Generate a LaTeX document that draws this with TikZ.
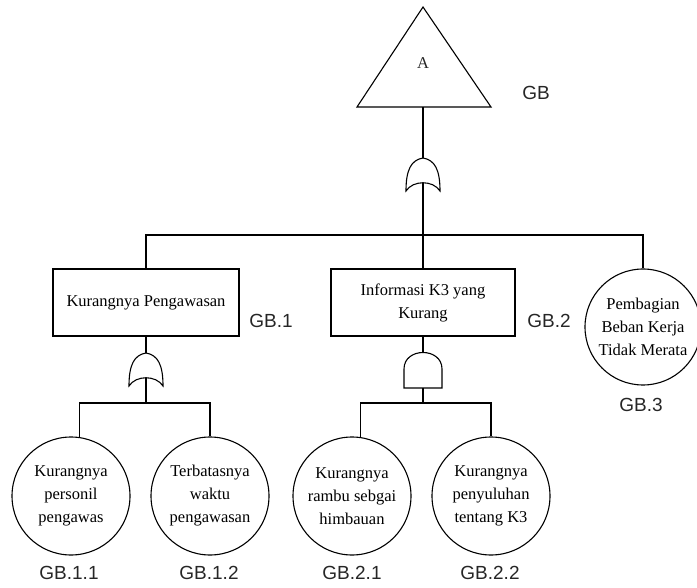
\documentclass[tikz,border=0pt]{standalone}
\usepackage{fontspec}
\setmainfont{Liberation Serif}
\newfontfamily\labelsans{Liberation Sans}
\begin{document}
\begin{tikzpicture}[x=1pt,y=-1pt,
  wire/.style={line width=1.1pt,black},
  evtext/.style={font=\fontsize{16.5}{23}\selectfont,align=center,text=black!85},
  eventbox/.style={evtext,draw,wire,rectangle,minimum width=186pt,minimum height=67pt,inner sep=0pt},
  basic/.style={evtext,draw,wire,circle,minimum size=118pt,inner sep=0pt},
  tag/.style={font=\labelsans\fontsize{19}{22}\selectfont,text=black!85,inner sep=0pt},
  orgate/.pic={
    \draw[wire,fill=white] (0,0) .. controls (12,2) and (17,12) .. (17,33)
      .. controls (10,22) and (-10,22) .. (-17,33)
      .. controls (-17,12) and (-12,2) .. cycle;
    \coordinate (-top) at (0,0);
    \coordinate (-bot) at (0,24.75);
  },
  andgate/.pic={
    \draw[wire,fill=white] (-19,36) -- (-19,17) .. controls (-19,-5) and (19,-5) .. (19,17)
      -- (19,36) -- cycle;
    \coordinate (-top) at (0,0);
    \coordinate (-bot) at (0,36);
  }]
\useasboundingbox (0,0) rectangle (697,588);

% top event
\draw[wire] (423,7) -- (491,107) -- (357,107) -- cycle;
\node[evtext] (topev) at (423,63) {A};
\coordinate (topbase) at (423,107);
\node[tag] (tGB) at (536,93) {GB};

% gates
\pic (g0) at (423,158) {orgate};
\pic (g1) at (146,353) {orgate};
\pic (g2) at (423,352) {andgate};

% intermediate events
\node[eventbox] (b1) at (146,302.5) {Kurangnya Pengawasan};
\node[eventbox,minimum width=184pt] (b2) at (423,302.5) {Informasi K3 yang\\Kurang};
\node[basic,minimum size=116pt] (c3) at (643,327) {Pembagian\\Beban Kerja\\Tidak Merata};

% basic events
\node[basic] (c11) at (71,496) {\\[-12pt]Kurangnya\\personil\\pengawas};
\node[basic] (c12) at (210,496) {\\[-12pt]Terbatasnya\\waktu\\pengawasan};
\node[basic] (c21) at (352,496) {\\[-12pt]Kurangnya\\rambu sebgai\\himbauan};
\node[basic] (c22) at (491,496) {\\[-12pt]Kurangnya\\penyuluhan\\tentang K3};

% labels
\node[tag] (tGB1) at (271,320.5) {GB.1};
\node[tag] (tGB2) at (549,321) {GB.2};
\node[tag] (tGB3) at (641,405) {GB.3};
\node[tag] (tGB11) at (69,573) {GB.1.1};
\node[tag] (tGB12) at (209,573) {GB.1.2};
\node[tag] (tGB21) at (352,573) {GB.2.1};
\node[tag] (tGB22) at (490,573) {GB.2.2};

% junctions
\coordinate (j0) at (423,235);
\coordinate (j1) at (146,403);
\coordinate (j2) at (423,403);

% connectors
\draw[wire] (topbase) -- (g0-top);
\draw[wire] (g0-bot) -- (j0);
\draw[wire] (b1.north) |- (j0) -| (c3.north);
\draw[wire] (j0) -- (b2.north);

\draw[wire] (b1.south) -- (g1-top);
\draw[wire] (g1-bot) -- (j1);
\draw[wire] (c11.82) |- (j1) -| (c12.north);

\draw[wire] (b2.south) -- (g2-top);
\draw[wire] (g2-bot) -- (j2);
\draw[wire] (c21.82) |- (j2) -| (c22.north);
\end{tikzpicture}
\end{document}
